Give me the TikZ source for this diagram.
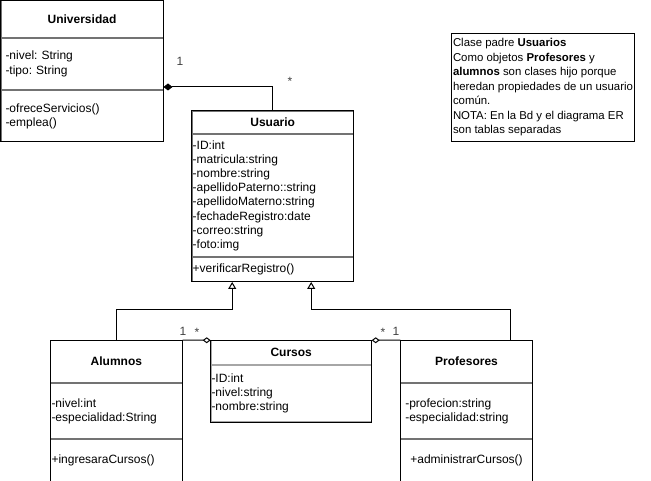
\documentclass[tikz,border=0pt]{standalone}
\usepackage{fontspec}
\setmainfont{Liberation Sans}
\frenchspacing
\usetikzlibrary{arrows.meta,positioning}
\tikzstyle{classtitle} = [draw=black!55, line width=1pt, font=\fontsize{12pt}{14pt}\selectfont\bfseries,
    align=center, anchor=north west, inner xsep=0pt, inner ysep=0pt]
\tikzstyle{classpart} = [draw=black!55, line width=1pt, font=\fontsize{12pt}{14.2pt}\selectfont,
    align=left, anchor=north west, inner ysep=0pt]
\tikzstyle{classframe} = [draw=black, line width=1pt]
\tikzstyle{notebox} = [draw=black, line width=1pt, font=\fontsize{11.4pt}{14.5pt}\selectfont,
    align=left, anchor=north west, inner xsep=1pt, inner ysep=0pt, minimum width=183pt, minimum height=108pt]
\tikzstyle{multlabel} = [font=\fontsize{12pt}{14pt}\selectfont, text=black!75, anchor=base, inner sep=0pt]
\tikzstyle{compline} = [line width=1pt, -{Diamond[length=9pt,width=7pt]}]
\tikzstyle{genline} = [line width=1pt, -{Triangle[open,length=7pt,width=8pt]}]
\tikzstyle{aggline} = [line width=1pt, -{Diamond[open,length=8pt,width=6pt]}]

\begin{document}
\begin{tikzpicture}[x=1pt,y=-1pt]
    \useasboundingbox (0,0) rectangle (651,481);
    % Universidad
    \node[classtitle, text width=162pt, minimum height=36.5pt] (unititle) at (0.5,0.5) {Universidad};
    \node[classpart, inner xsep=4.5pt, text width=153pt, minimum height=51pt] (uniattr) at (unititle.south west)
        {-nivel: String\\-tipo: String};
    \node[classpart, inner xsep=4.5pt, text width=153pt, minimum height=51pt] (unimeth) at (uniattr.south west)
        {-ofreceServicios()\\-emplea()};
    \draw[classframe] (unititle.north west) rectangle (unimeth.south east);
    % Usuario
    \node[classtitle, text width=161pt, minimum height=22.6pt] (usutitle) at (191.7,110.7) {Usuario};
    \node[classpart, inner xsep=0.5pt, text width=160pt, minimum height=121.7pt] (usuattr) at (usutitle.south west)
        {-ID:int\\-matricula:string\\-nombre:string\\-apellidoPaterno::string\\-apellidoMaterno:string\\-fechadeRegistro:date\\-correo:string\\-foto:img};
    \node[classpart, inner xsep=0.5pt, text width=160pt, minimum height=24pt] (usumeth) at (usuattr.south west)
        {+verificarRegistro()};
    \draw[classframe] (usutitle.north west) rectangle (usumeth.south east);
    % Alumnos
    \node[classtitle, text width=131.7pt, minimum height=41.7pt] (alumtitle) at (50,340) {Alumnos};
    \node[classpart, inner xsep=1pt, text width=129.7pt, minimum height=55.6pt] (alumattr) at (alumtitle.south west)
        {-nivel:int\\-especialidad:String};
    \node[classpart, inner xsep=1pt, text width=129.7pt, minimum height=42pt] (alummeth) at (alumattr.south west)
        {+ingresaraCursos()};
    \draw[classframe] (alumtitle.north west) rectangle (alummeth.south east);
    % Cursos
    \node[classtitle, draw=black!35, text width=160pt, minimum height=24pt] (curtitle) at (210.7,340.3) {Cursos};
    \node[classpart, draw=black!35, inner xsep=0.3pt, text width=159.4pt, minimum height=55.7pt] (curattr) at (curtitle.south west)
        {-ID:int\\-nivel:string\\-nombre:string};
    \draw[classframe] (curtitle.north west) rectangle (curattr.south east);
    % Profesores
    \node[classtitle, text width=131.4pt, minimum height=41.7pt] (proftitle) at (400.3,340) {Profesores};
    \node[classpart, inner xsep=4.5pt, text width=122.4pt, minimum height=55.6pt] (profattr) at (proftitle.south west)
        {-profecion:string\\-especialidad:string};
    \node[classpart, align=center, inner xsep=4.5pt, text width=122.4pt, minimum height=42pt] (profmeth) at (profattr.south west)
        {+administrarCursos()};
    \draw[classframe] (proftitle.north west) rectangle (profmeth.south east);
    % nota
    \node[notebox] (nota) at (451,33) {Clase padre \textbf{Usuarios}\\
        Como objetos \textbf{Profesores} y\\
        \textbf{alumnos} son clases hijo porque\\
        heredan propiedades de un usuario\\
        común.\\
        NOTA: En la Bd y el diagrama ER\\
        son tablas separadas};
    % relaciones
    \draw[compline] (usutitle.north) |- ([yshift=3pt]uniattr.south east);
    \draw[genline] (alumtitle.north) -- ++(0,-30) -| ([xshift=-40.5pt]usumeth.south);
    \draw[genline] ([xshift=44.3pt]proftitle.north) -- ++(0,-30) -| ([xshift=38.5pt]usumeth.south);
    \draw[aggline] (alumtitle.north east) -- (curtitle.north west);
    \draw[aggline] (proftitle.north west) -- (curtitle.north east);
    % multiplicidades
    \node[multlabel] (munia) at (180,65.5) {1};
    \node[multlabel] (musua) at (290,86) {*};
    \node[multlabel] (malum) at (183,335.3) {1};
    \node[multlabel] (mcura) at (197,336) {*};
    \node[multlabel] (mcurb) at (383,336) {*};
    \node[multlabel] (mprof) at (396,335.3) {1};
\end{tikzpicture}
\end{document}
